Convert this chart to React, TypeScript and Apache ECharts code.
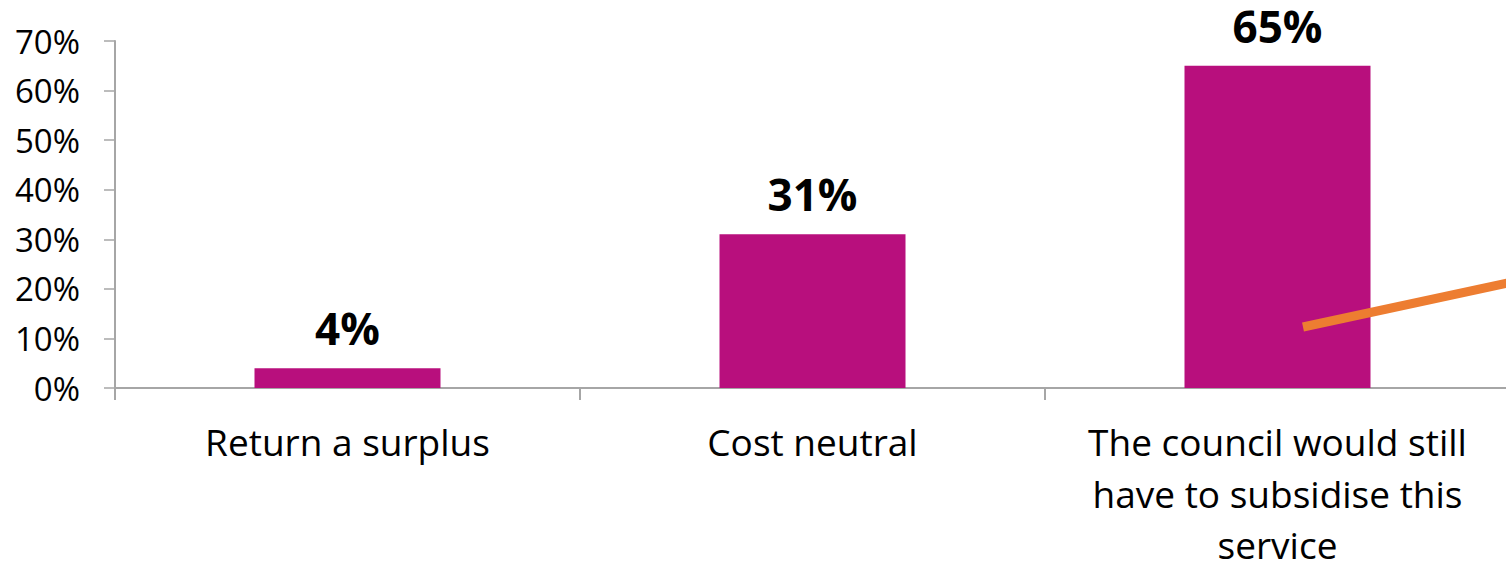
import React, { useEffect, useRef } from "react";
import * as echarts from "echarts";

const categories = [
  "Return a surplus",
  "Cost neutral",
  "The council would still\nhave to subsidise this\nservice",
];
const values = [4, 31, 65];
const yMax = 70;
const yInterval = 10;

export default function App() {
  const ref = useRef<HTMLDivElement>(null);
  useEffect(() => {
    if (!ref.current) return;
    const chart = echarts.init(ref.current, null, { renderer: "svg" });
    const font = "Open Sans";
    chart.setOption({
      animation: false,
      grid: {
        left: 115,
        width: 1395,
        top: 41,
        height: 347,
        containLabel: false,
        outerBoundsMode: "none",
      },
      xAxis: {
        type: "category",
        data: categories,
        axisLine: { lineStyle: { color: "#a6a6a6", width: 2 } },
        axisTick: { show: true, length: 12, lineStyle: { color: "#a6a6a6", width: 2 } },
        axisLabel: {
          color: "#000",
          fontFamily: font,
          fontSize: 37,
          lineHeight: 51.5,
          margin: 28,
          interval: 0,
        },
      },
      yAxis: {
        type: "value",
        min: 0,
        max: yMax,
        interval: yInterval,
        splitLine: { show: false },
        axisLine: { show: true, lineStyle: { color: "#a6a6a6", width: 2 } },
        axisTick: { show: true, length: 11, lineStyle: { color: "#a6a6a6", width: 1.5 } },
        axisLabel: {
          formatter: "{value}%",
          color: "#000",
          fontFamily: font,
          fontSize: 33,
          margin: 35,
        },
      },
      series: [
        {
          type: "bar",
          data: values,
          barWidth: "40%",
          itemStyle: { color: "#b80f7d" },
          label: {
            show: true,
            position: "top",
            distance: 18,
            formatter: "{c}%",
            color: "#000",
            fontFamily: font,
            fontWeight: "bold",
            fontSize: 44,
          },
        },
      ],
      graphic: [
        {
          type: "line",
          shape: { x1: 1303, y1: 327, x2: 1512, y2: 282 },
          style: { stroke: "#ed7d31", lineWidth: 9 },
          z: 100,
        },
      ],
    });
    return () => chart.dispose();
  }, []);
  return (
    <div
      style={{
        position: "fixed",
        left: 0,
        top: 0,
        width: 1506,
        height: 562,
        overflow: "hidden",
        background: "#fff",
      }}
    >
      <div ref={ref} style={{ width: 1510, height: 562 }} />
    </div>
  );
}
